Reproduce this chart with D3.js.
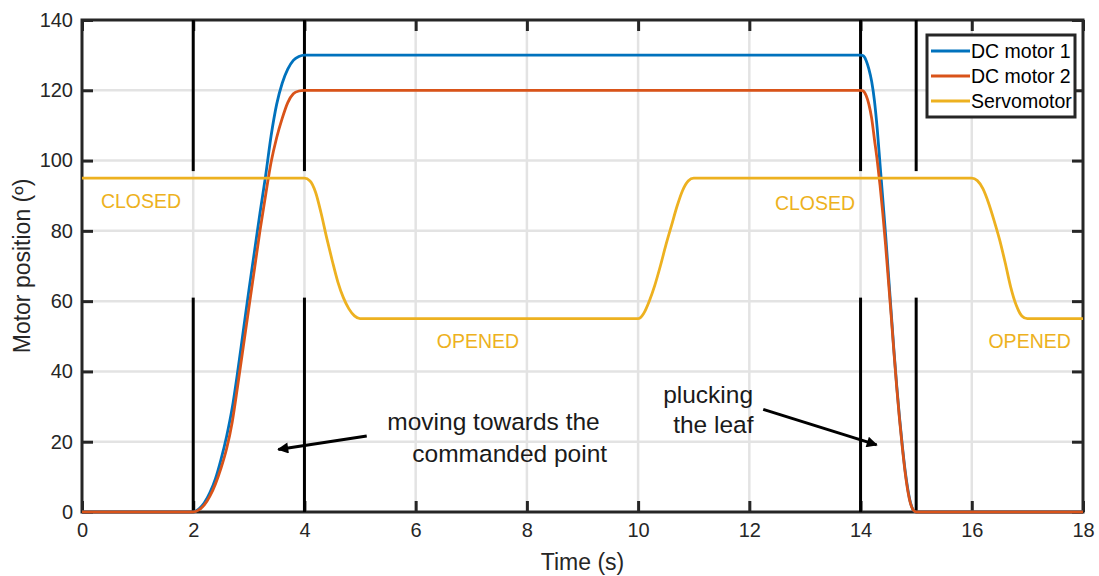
<!DOCTYPE html>
<html><head><meta charset="utf-8">
<script src="https://cdn.jsdelivr.net/npm/d3@7"></script>
<style>
body{margin:0;background:#fff;}
svg text{font-family:"Liberation Sans",Arial,Helvetica,sans-serif;}
</style></head><body>
<svg id="chart" width="1099" height="576"></svg>
<script>
// ---------- data ----------
const xTicks = [0, 2, 4, 6, 8, 10, 12, 14, 16, 18];
const yTicks = [0, 20, 40, 60, 80, 100, 120, 140];
const seriesNames = ["DC motor 1", "DC motor 2", "Servomotor"];

const timeMotor = [0, 2.0, 2.1, 2.2, 2.3, 2.4, 2.5, 2.6, 2.7, 2.8, 2.9, 3.0, 3.1, 3.2, 3.3, 3.4, 3.5, 3.6, 3.7, 3.8, 3.9, 4.0,
  14.0, 14.05, 14.1, 14.15, 14.2, 14.25, 14.3, 14.35, 14.4, 14.45, 14.5, 14.55, 14.6, 14.65, 14.7, 14.75, 14.8, 14.85, 14.9, 14.95, 15.0, 18];
const dcMotor1 = [0, 0, 0.8, 2.6, 5.5, 9.5, 15, 21.5, 29.5, 40, 51.5, 63, 74, 85, 95.5, 107, 116, 122, 126, 128.5, 129.6, 130,
  130, 129.8, 128.5, 126, 122.5, 117, 109, 99, 89, 79, 68, 57, 46, 36, 27, 19, 12, 6.5, 2.5, 0.5, 0, 0];
const dcMotor2 = [0, 0, 0.6, 2, 4.5, 8, 12.5, 18, 25.5, 36, 47, 58, 69, 80, 90, 99.5, 106.5, 112, 116.5, 119, 119.8, 120,
  120, 119.8, 118.5, 116, 112, 106, 100, 93, 85, 76, 66, 56, 45.5, 35.5, 26.5, 18.5, 11.5, 6, 2.3, 0.5, 0, 0];

const timeServo = [0, 4.0, 4.1, 4.2, 4.3, 4.4, 4.5, 4.6, 4.7, 4.8, 4.9, 5.0,
  10.0, 10.1, 10.2, 10.3, 10.4, 10.5, 10.6, 10.7, 10.8, 10.9, 11.0,
  16.0, 16.1, 16.2, 16.3, 16.4, 16.5, 16.6, 16.7, 16.8, 16.9, 17.0, 18];
const servomotor = [95, 95, 94.2, 91, 85, 78, 71.5, 65.5, 61, 57.8, 55.8, 55,
  55, 56.5, 60, 64.5, 70, 76, 81.5, 87, 91.5, 94.2, 95,
  95, 94.3, 92, 88, 83, 77.5, 71, 64, 58.8, 55.8, 55, 55];

const markerTimes = [2, 4, 14, 15];
const markerSpans = [[0, 61], [97, 140]];

const stateLabels = ["CLOSED", "OPENED", "CLOSED", "OPENED"];
const stateLabelT = [0.34, 6.38, 12.46, 16.3];
const stateLabelV = [86.5, 46.7, 85.9, 46.7];

// ---------- layout ----------
const svg = d3.select("#chart");
const L = 82, R = 1083, T = 20, B = 512;
const x = d3.scaleLinear().domain([0, 18]).range([L, R]);
const y = d3.scaleLinear().domain([0, 140]).range([B, T]);
const colors = ["#0072BD", "#D95319", "#EDB120"];
const axisColor = "#262626";

svg.append("rect").attr("width", 1099).attr("height", 576).attr("fill", "#fff");

// grid
const grid = svg.append("g").attr("stroke", "#e3e3e3").attr("stroke-width", 2.5);
grid.selectAll(".gx").data(xTicks.slice(1, -1)).join("line")
  .attr("x1", d => x(d)).attr("x2", d => x(d)).attr("y1", T).attr("y2", B);
grid.selectAll(".gy").data(yTicks.slice(1, -1)).join("line")
  .attr("x1", L).attr("x2", R).attr("y1", d => y(d)).attr("y2", d => y(d));

// axes (ticks inward)
function styleAxis(g) {
  g.select(".domain").remove();
  g.selectAll(".tick line").attr("stroke", axisColor).attr("stroke-width", 3);
  g.selectAll("text").attr("fill", axisColor);
  g.attr("font-size", 20).attr("font-family", '"Liberation Sans",Arial,sans-serif');
}
svg.append("g").attr("transform", `translate(0,${B})`)
  .call(d3.axisBottom(x).tickValues(xTicks).tickFormat(d3.format("d")).tickSize(-11).tickPadding(11).tickSizeOuter(0))
  .call(styleAxis);
svg.append("g").attr("transform", `translate(0,${T})`)
  .call(d3.axisTop(x).tickValues(xTicks).tickFormat("").tickSize(-11).tickSizeOuter(0))
  .call(styleAxis);
svg.append("g").attr("transform", `translate(${L},0)`)
  .call(d3.axisLeft(y).tickValues(yTicks).tickFormat(d3.format("d")).tickSize(-11).tickPadding(9).tickSizeOuter(0))
  .call(styleAxis);
svg.append("g").attr("transform", `translate(${R},0)`)
  .call(d3.axisRight(y).tickValues(yTicks).tickFormat("").tickSize(-11).tickSizeOuter(0))
  .call(styleAxis);

svg.append("rect").attr("x", L).attr("y", T).attr("width", R - L).attr("height", B - T)
  .attr("fill", "none").attr("stroke", axisColor).attr("stroke-width", 3);

// black event markers
const mk = svg.append("g").attr("stroke", "#000").attr("stroke-width", 3);
markerTimes.forEach(t => {
  markerSpans.forEach(s => {
    mk.append("line").attr("x1", x(t)).attr("x2", x(t)).attr("y1", y(s[0])).attr("y2", y(s[1]));
  });
});

// series
const line = d3.line().x(d => x(d[0])).y(d => y(d[1])).curve(d3.curveMonotoneX);
const series = [
  d3.zip(timeMotor, dcMotor1),
  d3.zip(timeMotor, dcMotor2),
  d3.zip(timeServo, servomotor)
];
svg.append("g").selectAll("path").data(series).join("path")
  .attr("d", line).attr("fill", "none")
  .attr("stroke", (d, i) => colors[i]).attr("stroke-width", 2.8)
  .attr("stroke-linejoin", "round");

// state labels
svg.append("g").selectAll("text").data(stateLabels).join("text")
  .attr("x", (d, i) => x(stateLabelT[i])).attr("y", (d, i) => y(stateLabelV[i]))
  .attr("fill", "#EDB120").attr("font-size", 19.5).text(d => d);

// annotations
const defs = svg.append("defs");
defs.append("marker").attr("id", "arrow").attr("viewBox", "0 0 10 10")
  .attr("refX", 9).attr("refY", 5).attr("markerWidth", 16).attr("markerHeight", 11)
  .attr("markerUnits", "userSpaceOnUse").attr("orient", "auto")
  .append("path").attr("d", "M0,0L10,5L0,10z").attr("fill", "#000");

const arrows = [[[5.12, 21.6], [3.53, 17.8]], [[12.25, 29.2], [14.29, 19.1]]];
svg.append("g").selectAll("line").data(arrows).join("line")
  .attr("x1", d => x(d[0][0])).attr("y1", d => y(d[0][1]))
  .attr("x2", d => x(d[1][0])).attr("y2", d => y(d[1][1]))
  .attr("stroke", "#000").attr("stroke-width", 3).attr("marker-end", "url(#arrow)");

const notes = [["moving towards the", 5.49, 23.3], ["commanded point", 5.94, 14.2],
               ["plucking", 10.45, 31.0], ["the leaf", 10.63, 22.5]];
svg.append("g").selectAll("text").data(notes).join("text")
  .attr("x", d => x(d[1])).attr("y", d => y(d[2]))
  .attr("fill", "#1a1a1a").attr("font-size", 24.5).text(d => d[0]);

// axis titles
svg.append("text").attr("x", (L + R) / 2).attr("y", 570).attr("text-anchor", "middle")
  .attr("font-size", 23).attr("fill", axisColor).text("Time (s)");
svg.append("text").attr("transform", `translate(30,${(T + B) / 2}) rotate(-90)`)
  .attr("text-anchor", "middle").attr("font-size", 23).attr("fill", axisColor).text("Motor position (º)");

// legend
const lg = svg.append("g");
lg.append("rect").attr("x", 927).attr("y", 35).attr("width", 148).attr("height", 82)
  .attr("fill", "#fff").attr("stroke", axisColor).attr("stroke-width", 3);
seriesNames.forEach((n, i) => {
  const yy = 51 + i * 25;
  lg.append("line").attr("x1", 931).attr("x2", 970).attr("y1", yy).attr("y2", yy)
    .attr("stroke", colors[i]).attr("stroke-width", 3);
  lg.append("text").attr("x", 971).attr("y", yy + 6.5).attr("font-size", 19.5).attr("fill", "#000").text(n);
});
</script>
</body></html>
